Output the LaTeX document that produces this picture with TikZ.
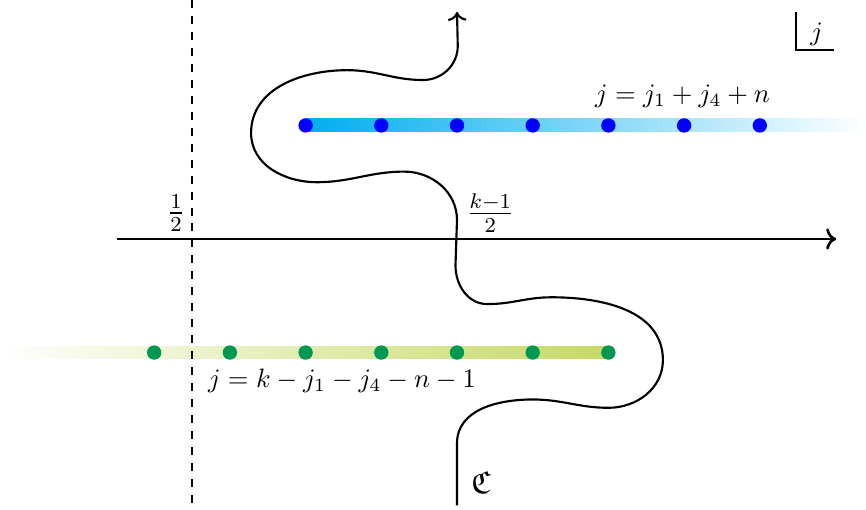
\documentclass[tikz,border=0pt]{standalone}
\usepackage{amsmath,amssymb}
\usepackage{xcolor}
\usepackage{tikz}
\usetikzlibrary{arrows.meta}
\definecolor{barblue}{RGB}{0,174,239}
\definecolor{dotblue}{RGB}{0,0,255}
\definecolor{bargreen}{RGB}{198,217,100}
\definecolor{dotgreen}{RGB}{0,152,82}

\begin{document}
\begin{tikzpicture}[x=1cm,y=1cm,
    dot/.style={circle,inner sep=0pt,minimum size=0.19cm},
    axisline/.style={line width=1pt,->},
    contour/.style={line width=0.8pt,->}]
  \useasboundingbox (-6.037,-3.58) rectangle (5.403,3.157);
  % --- geometry: upper row at y=1.5, lower row at y=-1.5 ---
  \def\yU{1.5} \def\yD{-1.5} \def\bw{0.085}
  % fading bars behind the dots
  \shade[left color=barblue,right color=white]
    (-2,\yU-\bw) rectangle (5.403,\yU+\bw);
  \shade[left color=white,right color=bargreen]
    (-6.037,\yD-\bw) rectangle (2,\yD+\bw);
  % --- dots ---
  \foreach \i in {-2,...,4}{
    \node[dot,fill=dotblue] (u\i) at (\i,\yU) {};}
  \foreach \i in {-4,...,2}{
    \node[dot,fill=dotgreen] (d\i) at (\i,\yD) {};}
  % --- real axis and the line Re j = 1/2 ---
  \coordinate (axL) at (-4.49,0);
  \coordinate (axR) at (5.01,0);
  \draw[axisline] (axL) -- (axR);
  \coordinate (hT) at (-3.5,3.157);
  \coordinate (hB) at (-3.5,-3.58);
  \draw[dashed,line width=0.6pt] (hT) -- (hB);
  % --- labels ---
  \node[font=\large] (half) at (-3.71,0.34) {$\frac{1}{2}$};
  \node[font=\large] (kfrac) at (0.44,0.34) {$\frac{k-1}{2}$};
  \node (lblU) at (2.98,1.88) {$j=j_1+j_4+n$};
  \node (lblD) at (-1.52,-1.88) {$j=k-j_1-j_4-n-1$};
  \node[font=\large] (cname) at (0.32,-3.22) {$\mathfrak{C}$};
  % --- j-plane marker ---
  \node (jlab) at (4.75,2.71) {$j$};
  \draw[line width=0.8pt] (4.478,3.0) |- (4.98,2.497);
  % --- contour, from the bottom up ---
  \draw[contour] (0,-3.52) -- (0,-2.7)
    to[out=90,in=180] (1.0,-2.12) to[out=0,in=180] (2.0,-2.23)
    to[out=0,in=-90] (2.72,-1.6) to[out=90,in=0] (1.25,-0.77)
    to[out=180,in=0] (0.4,-0.86) to[out=180,in=-90] (-0.02,-0.35)
    -- (0,0.25)
    to[out=90,in=0] (-0.7,0.89) to[out=180,in=0] (-1.85,0.75)
    to[out=180,in=-90] (-2.72,1.4) to[out=90,in=180] (-1.45,2.23)
    to[out=0,in=180] (-0.45,2.10) to[out=0,in=-90] (0.01,2.55)
    -- (0,3.0);
\end{tikzpicture}
\end{document}
